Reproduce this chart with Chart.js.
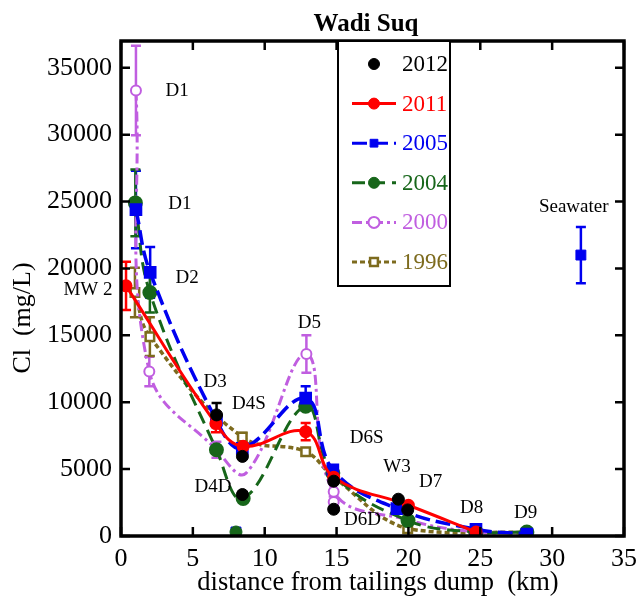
<!DOCTYPE html>
<html lang="en">
  <head>
    <meta charset="UTF-8" />
    <title>Wadi Suq</title>
    <style>
      body { margin: 0; background: #fff; }
    </style>
  </head>
  <body>
    <canvas id="chart" width="638" height="604"></canvas>
    <script src="https://cdn.jsdelivr.net/npm/chart.js"></script>
    <script>
      // distance from tailings dump (km) and Cl (mg/L)
      const x2012 = [6.65, 8.45, 8.45, 14.8, 14.8, 19.3, 19.95];
      const y2012 = [9050, 5950, 3100, 4100, 2000, 2750, 1950];
      const e2012 = [900, 0, 0, 0, 0, 0, 0];

      const x2011 = [0.35, 6.6, 8.5, 12.85, 14.8, 20.0, 24.7];
      const y2011 = [18700, 8400, 6700, 7800, 4400, 2300, 300];
      const e2011 = [1800, 650, 0, 650, 0, 0, 0];

      const x2005 = [1.04, 2.03, 6.64, 8.44, 12.85, 14.74, 19.2, 24.7, 28.24];
      const y2005 = [24400, 19700, 8650, 6550, 10300, 4950, 2050, 500, 150];
      const e2005 = [2900, 1900, 0, 0, 900, 0, 0, 0, 0];

      const x2004 = [1.0, 2.01, 6.64, 8.5, 12.85, 14.74, 19.97, 24.7, 28.24];
      const y2004 = [24900, 18200, 6450, 2800, 9700, 4700, 1150, 300, 300];
      const e2004 = [2500, 1500, 0, 0, 0, 0, 0, 0, 0];

      const x2000 = [1.04, 1.97, 6.64, 8.7, 12.9, 14.8, 19.97, 24.7, 28.24];
      const y2000 = [33300, 12300, 6450, 4700, 13600, 3300, 1200, 300, 300];
      const e2000 = [3350, 1100, 600, 0, 1400, 0, 0, 0, 0];
      const r2000 = [5, 5, 5, 0, 5, 5, 5, 5, 5];

      const x1996 = [0.97, 2.01, 8.44, 12.85, 14.8, 19.95, 28.24];
      const y1996 = [18200, 14900, 7400, 6300, 4400, 550, 250];
      const e1996 = [1850, 1450, 300, 0, 0, 300, 0];
      const r1996 = [6, 6, 6, 6, 0, 6, 6];

      // points off the fitted curves
      const xExtra2000 = [8.45, 8.45, 14.8];
      const yExtra2000 = [6200, 2850, 2550];
      const eExtra2000 = [0, 0, 400];
      const xExtra2004 = [8.0];
      const yExtra2004 = [300];
      const xExtra2005 = [8.0];
      const yExtra2005 = [300];
      const xSea = [32.0];
      const ySea = [21000];
      const eSea = [2100];

      const xTicks = [0, 5, 10, 15, 20, 25, 30, 35];
      const yTicks = [0, 5000, 10000, 15000, 20000, 25000, 30000, 35000];

      const labelText = ['D1', 'D1', 'D2', 'MW 2', 'D3', 'D4S', 'D4D', 'D5', 'D6S', 'D6D', 'W3', 'D7', 'D8', 'D9', 'Seawater'];
      const labelX = [3.9, 4.1, 4.6, -2.3, 6.55, 8.9, 6.4, 13.1, 17.1, 16.8, 19.2, 21.55, 24.4, 28.15, 31.5];
      const labelY = [33270, 24840, 19250, 18350, 11490, 9850, 3660, 15890, 7310, 1190, 5150, 4030, 2090, 1720, 24600];

      const SERIF = "'Liberation Serif', 'DejaVu Serif', serif";
      const RED = '#ff0000', BLUE = '#0000f0', GREEN = '#17661a', PURPLE = '#c05ee0', OLIVE = '#7d6b1e';

      function pts(xs, ys) {
        return xs.map((x, i) => ({ x: x, y: ys[i] }));
      }

      const datasets = [
        { label: '2012', data: pts(x2012, y2012), err: e2012, showLine: false,
          borderColor: '#000', backgroundColor: '#000', pointRadius: 6, pointStyle: 'circle', legend: true },
        { label: '2011', data: pts(x2011, y2011), err: e2011, showLine: true,
          borderColor: RED, backgroundColor: RED, borderWidth: 3, pointRadius: 5, legend: true },
        { label: '2005', data: pts(x2005, y2005), err: e2005, showLine: true, borderDash: [15, 6],
          borderColor: BLUE, backgroundColor: BLUE, borderWidth: 3.5, pointRadius: 6.5, pointStyle: 'rect', legend: true },
        { label: '2004', data: pts(x2004, y2004), err: e2004, showLine: true, borderDash: [13, 7],
          borderColor: GREEN, backgroundColor: GREEN, borderWidth: 3, pointRadius: 6, legend: true },
        { label: '2000', data: pts(x2000, y2000), err: e2000, showLine: true, borderDash: [10, 4, 3, 4],
          borderColor: PURPLE, backgroundColor: '#fff', borderWidth: 3, pointRadius: r2000, pointBorderWidth: 2, legend: true },
        { label: '1996', data: pts(x1996, y1996), err: e1996, showLine: true, borderDash: [5, 3],
          borderColor: OLIVE, backgroundColor: '#fff', borderWidth: 3.5, pointRadius: r1996, pointStyle: 'rect', pointBorderWidth: 2.5, legend: true },
        { label: '2000 extra', data: pts(xExtra2000, yExtra2000), err: eExtra2000, showLine: false,
          borderColor: PURPLE, backgroundColor: '#fff', pointRadius: 5, pointBorderWidth: 2 },
        { label: '2004 extra', data: pts(xExtra2004, yExtra2004), showLine: false,
          borderColor: GREEN, backgroundColor: GREEN, pointRadius: 6 },
        { label: '2005 extra', data: pts(xExtra2005, yExtra2005), showLine: false,
          borderColor: BLUE, backgroundColor: BLUE, pointRadius: 7, pointStyle: 'rect' },
        { label: 'Seawater', data: pts(xSea, ySea), err: eSea, showLine: false,
          borderColor: BLUE, backgroundColor: BLUE, pointRadius: 7, pointStyle: 'rect' },
      ];
      datasets.forEach(d => { d.tension = 0.4; });

      const errorBars = {
        id: 'errorBars',
        beforeDatasetsDraw(chart) {
          const ctx = chart.ctx, xs = chart.scales.x, ys = chart.scales.y;
          ctx.save();
          ctx.lineWidth = 2.5;
          chart.data.datasets.forEach(d => {
            if (!d.err) return;
            ctx.strokeStyle = d.borderColor;
            d.data.forEach((p, i) => {
              const e = d.err[i];
              if (!e) return;
              const px = xs.getPixelForValue(p.x);
              const top = ys.getPixelForValue(p.y + e), bot = ys.getPixelForValue(p.y - e);
              ctx.beginPath();
              ctx.moveTo(px, top); ctx.lineTo(px, bot);
              ctx.moveTo(px - 5, top); ctx.lineTo(px + 5, top);
              ctx.moveTo(px - 5, bot); ctx.lineTo(px + 5, bot);
              ctx.stroke();
            });
          });
          ctx.restore();
        },
      };

      const decorations = {
        id: 'decorations',
        afterDraw(chart) {
          const ctx = chart.ctx, a = chart.chartArea, xs = chart.scales.x, ys = chart.scales.y;
          ctx.save();
          // ticks pointing inward on all four sides
          ctx.strokeStyle = '#000';
          ctx.lineWidth = 2.5;
          ctx.beginPath();
          xTicks.forEach(v => {
            const px = xs.getPixelForValue(v);
            ctx.moveTo(px, a.bottom); ctx.lineTo(px, a.bottom - 9);
            ctx.moveTo(px, a.top); ctx.lineTo(px, a.top + 9);
          });
          yTicks.forEach(v => {
            const py = ys.getPixelForValue(v);
            ctx.moveTo(a.left, py); ctx.lineTo(a.left + 9, py);
            ctx.moveTo(a.right, py); ctx.lineTo(a.right - 9, py);
          });
          ctx.stroke();
          ctx.lineWidth = 3.5;
          ctx.strokeRect(a.left, a.top, a.right - a.left, a.bottom - a.top);

          // station labels
          ctx.fillStyle = '#000';
          ctx.font = '19px ' + SERIF;
          ctx.textAlign = 'center';
          ctx.textBaseline = 'middle';
          labelText.forEach((t, i) => {
            ctx.fillText(t, xs.getPixelForValue(labelX[i]), ys.getPixelForValue(labelY[i]));
          });

          // titles
          ctx.font = 'bold 25px ' + SERIF;
          ctx.fillText('Wadi Suq', 366, 25);
          ctx.font = '26.5px ' + SERIF;
          ctx.fillText('distance from tailings dump  (km)', 378, 583);
          ctx.save();
          ctx.translate(23, 318);
          ctx.rotate(-Math.PI / 2);
          ctx.font = '26px ' + SERIF;
          ctx.fillText('Cl  (mg/L)', 0, 0);
          ctx.restore();

          // legend box inside plot
          const bx = 338, by = a.top, bw = 112, bh = 286 - a.top;
          ctx.fillStyle = '#fff';
          ctx.fillRect(bx, by, bw, bh);
          ctx.lineWidth = 2;
          ctx.strokeStyle = '#000';
          ctx.strokeRect(bx, by, bw, bh);
          let row = 0;
          chart.data.datasets.forEach(d => {
            if (!d.legend) return;
            const y = 64 + row * 39.6;
            row++;
            ctx.strokeStyle = d.borderColor;
            if (d.showLine) {
              ctx.lineWidth = 3;
              ctx.setLineDash(d.borderDash || []);
              ctx.beginPath();
              ctx.moveTo(352, y); ctx.lineTo(396, y);
              ctx.stroke();
              ctx.setLineDash([]);
            }
            ctx.fillStyle = d.backgroundColor;
            ctx.lineWidth = d.pointBorderWidth || 1;
            Chart.helpers.drawPoint(ctx, { pointStyle: d.pointStyle || 'circle', radius: 5.5, borderWidth: ctx.lineWidth }, 374, y);
            ctx.fillStyle = d.borderColor;
            ctx.font = '23px ' + SERIF;
            ctx.textAlign = 'left';
            ctx.fillText(d.label, 402, y + 1);
          });
          ctx.restore();
        },
      };

      new Chart(document.getElementById('chart'), {
        type: 'scatter',
        data: { datasets: datasets },
        options: {
          responsive: false,
          animation: false,
          devicePixelRatio: 1,
          layout: { autoPadding: false, padding: { top: 41, right: 14, left: 0, bottom: 0 } },
          plugins: { legend: { display: false }, tooltip: { enabled: false } },
          scales: {
            x: {
              type: 'linear', min: 0, max: 35,
              afterBuildTicks: s => { s.ticks = xTicks.map(v => ({ value: v })); },
              afterFit: s => { s.height = 68; s.paddingLeft = 0; s.paddingRight = 0; },
              grid: { display: false, drawTicks: false },
              border: { display: false },
              ticks: { color: '#000', padding: 8, font: { family: SERIF, size: 26 }, maxRotation: 0 },
            },
            y: {
              type: 'linear', min: 0, max: 37000,
              afterBuildTicks: s => { s.ticks = yTicks.map(v => ({ value: v })); },
              afterFit: s => { s.width = 121; s.paddingTop = 0; s.paddingBottom = 0; },
              grid: { display: false, drawTicks: false },
              border: { display: false },
              ticks: { color: '#000', padding: 9, font: { family: SERIF, size: 26 }, callback: v => String(v) },
            },
          },
        },
        plugins: [errorBars, decorations],
      });
    </script>
  </body>
</html>
